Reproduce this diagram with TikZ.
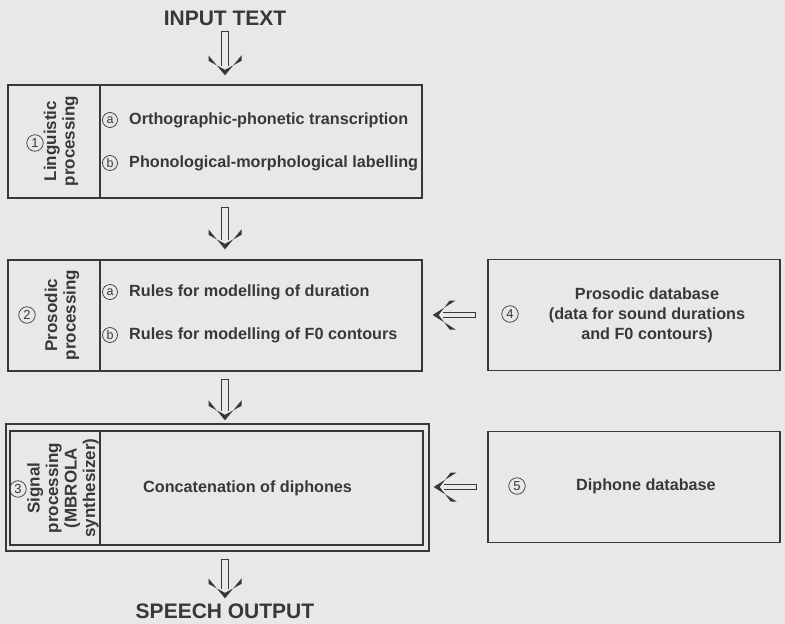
\documentclass[tikz,border=0pt]{standalone}
\usepackage{fontspec}
\setmainfont{Liberation Sans}
\usetikzlibrary{decorations.markings}
\definecolor{paper}{HTML}{E8E8E8}
\definecolor{ink}{HTML}{383838}

\tikzset{
  box/.style={draw=ink, line width=1.3pt, inner sep=0pt},
  itemtext/.style={text=ink, font=\fontsize{16.2}{20}\selectfont\bfseries, inner sep=0pt},
  sidetext/.style={text=ink, font=\fontsize{17}{18.5}\selectfont\bfseries, rotate=90, align=center, inner sep=0pt},
  circnum/.style={circle, draw=ink, line width=0.7pt, text=ink, minimum size=16.5pt, inner sep=0pt,
    font=\fontsize{13}{13}\selectfont},
  circlet/.style={circnum, minimum size=15pt, font=\fontsize{12.5}{12.5}\selectfont},
  headtext/.style={text=ink, font=\fontsize{21}{24}\selectfont\bfseries, inner sep=0pt},
  % shaft gap, head length, half head width, inner offset of head
  fatarrow/.style n args={4}{draw=ink, line width=1.2pt, double=paper, double distance=#1,
    postaction={decorate, decoration={markings,
      mark=at position 0 with {\fill[ink] (0pt,-#1/2-1.2pt) rectangle (1.2pt,#1/2+1.2pt);},
      mark=at position 1 with {\fill[ink] (0pt,0pt) -- (-#2,#3) -- (-#2+#4,#3) -- (-#4,0pt)
        -- (-#2+#4,-#3) -- (-#2,-#3) -- cycle;}}}},
  vfat/.style={fatarrow={6pt}{20pt}{16.5pt}{5.5pt}, shorten >=9.5pt},
  hfat/.style={fatarrow={3.6pt}{23pt}{14.5pt}{6pt}, shorten >=10pt}
}

\begin{document}
\begin{tikzpicture}[x=1pt, y=-1pt]
  \fill[paper] (0,0) rectangle (785,624);
  \useasboundingbox (0,0) rectangle (785,624);

  \node[headtext] (intext) at (225,18) {INPUT TEXT};
  \node[headtext] (outtext) at (225,611) {SPEECH OUTPUT};

  % 1 linguistic processing
  \node[box, minimum width=92pt, minimum height=113pt] (lingL) at (54,141.5) {};
  \node[box, minimum width=322pt, minimum height=113pt] (ling) at (261,141.5) {};
  \node[circnum] (n1) at (35,143) {1};
  \node[sidetext] (lingtxt) at (61,141) {Linguistic\\processing};
  \node[circlet] (ca1) at (110,120) {a};
  \node[itemtext, anchor=west] (ortho) at (129,120) {Orthographic-phonetic transcription};
  \node[circlet] (cb1) at (110,163) {b};
  \node[itemtext, anchor=west] (phono) at (129,163) {Phonological-morphological labelling};

  % 2 prosodic processing
  \node[box, minimum width=92pt, minimum height=111pt] (prosL) at (54,315.5) {};
  \node[box, minimum width=322pt, minimum height=111pt] (pros) at (261,315.5) {};
  \node[circnum] (n2) at (27,315) {2};
  \node[sidetext] (prostxt) at (62,315) {Prosodic\\processing};
  \node[circlet] (ca2) at (110,292) {a};
  \node[itemtext, anchor=west] (durat) at (129,292) {Rules for modelling of duration};
  \node[circlet] (cb2) at (110,335) {b};
  \node[itemtext, anchor=west] (contr) at (129,335) {Rules for modelling of F0 contours};

  % 3 signal processing, double frame
  \node[box, minimum width=423pt, minimum height=127pt] (sigout) at (217.5,487.5) {};
  \node[box, minimum width=90pt, minimum height=114pt] (sigL) at (55,488) {};
  \node[box, minimum width=323pt, minimum height=114pt] (sig) at (261.5,488) {};
  \node[circnum] (n3) at (18,489) {3};
  \node[sidetext] (sigtxt) at (63,488) {Signal\\processing\\(MBROLA\\synthesizer)};
  \node[itemtext, anchor=west] (concat) at (143,488) {Concatenation of diphones};

  % 4 and 5 databases
  \node[box, minimum width=292pt, minimum height=111pt] (prosdb) at (634,315) {};
  \node[circnum] (n4) at (510,314) {4};
  \node[itemtext, align=center] (prosdbtxt) at (647,315) {Prosodic database\\(data for sound durations\\and F0 contours)};
  \node[box, minimum width=292pt, minimum height=111pt] (diphdb) at (634,487) {};
  \node[circnum] (n5) at (517,486) {5};
  \node[itemtext] (diphdbtxt) at (646,486) {Diphone database};

  % arrows
  \draw[vfat] ([yshift=-5pt]intext.south) -- ([yshift=9pt]ling.north -| intext.south);
  \draw[vfat] ([yshift=-8pt]ling.south -| intext.south) -- ([yshift=10pt]pros.north -| intext.south);
  \draw[vfat] ([yshift=-7pt]pros.south -| intext.south) -- ([yshift=3pt]sigout.north -| intext.south);
  \draw[vfat] ([yshift=-7pt]sigout.south -| intext.south) -- ([yshift=5pt]outtext.north);
  \draw[hfat] ([xshift=-11pt]prosdb.west) -- ([xshift=10pt]pros.east |- prosdb.west);
  \draw[hfat] ([xshift=-10pt]diphdb.west) -- ([xshift=4pt]sigout.east |- diphdb.west);
\end{tikzpicture}
\end{document}
